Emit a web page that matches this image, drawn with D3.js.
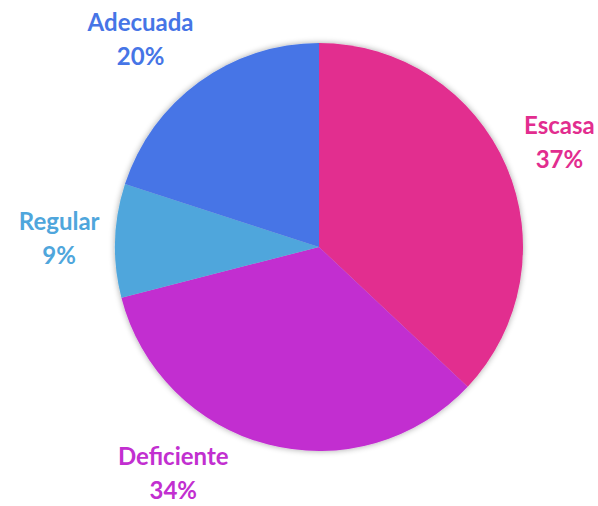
<!DOCTYPE html>
<html>
<head>
<meta charset="utf-8">
<script src="https://cdn.jsdelivr.net/npm/d3@7"></script>
<style>
  body { margin: 0; background: #fff; }
  svg text { font-family: Lato, "Open Sans", sans-serif; font-weight: 700; }
</style>
</head>
<body>
<div id="chart"></div>
<script>
// data
var categories = ['Escasa', 'Deficiente', 'Regular', 'Adecuada'];
var values = [37, 34, 9, 20];
var colors = ['#e22d8f', '#c22fd0', '#4fa6dc', '#4675e6'];

// layout
var width = 598,
    height = 506;
var cx = 319, cy = 247, radius = 204;
var fontSize = 24, lineH = 34, capH = 18, gap = 15;

var data = categories.map(function(c, i){
    return {name: c, value: values[i], color: colors[i]};
});

var svg = d3.select('#chart').append('svg')
    .attr('width', width)
    .attr('height', height);

// soft shadow round the pie
var defs = svg.append('defs');
var f = defs.append('filter').attr('id', 'shadow')
    .attr('x', '-10%').attr('y', '-10%').attr('width', '120%').attr('height', '120%');
f.append('feGaussianBlur').attr('in', 'SourceAlpha').attr('stdDeviation', 3).attr('result', 'b');
f.append('feComponentTransfer').attr('in', 'b').attr('result', 's')
  .append('feFuncA').attr('type', 'linear').attr('slope', 0.35);
var m = f.append('feMerge');
m.append('feMergeNode').attr('in', 's');
m.append('feMergeNode').attr('in', 'SourceGraphic');

var g = svg.append('g')
    .attr('transform', 'translate(' + cx + ',' + cy + ')');

var pie = d3.pie()
    .sort(null)
    .value(function(d){ return d.value; });

var arc = d3.arc()
    .innerRadius(0)
    .outerRadius(radius);

var arcs = pie(data);

g.append('g').attr('filter', 'url(#shadow)')
  .selectAll('path')
    .data(arcs)
  .enter().append('path')
    .attr('d', arc)
    .style('fill', function(d){ return d.data.color; });

// distance from pie centre to the nearest point of a label box
function nearest(x, y, w, h){
    var nx = Math.max(x - w/2, Math.min(0, x + w/2));
    var ny = Math.max(y - h/2, Math.min(0, y + h/2));
    return Math.sqrt(nx*nx + ny*ny);
}

// push a box out along angle a until it clears the pie
function placeAt(a, w, h){
    var dx = Math.sin(a), dy = -Math.cos(a), t = 0;
    while (nearest(t*dx, t*dy, w, h) < radius + gap) t += 0.5;
    return [t*dx, t*dy];
}

function fits(p, w, h){
    return p[0] - w/2 + cx >= 0 && p[0] + w/2 + cx <= width &&
           p[1] - h/2 + cy >= 13 && p[1] + h/2 + cy <= height - 5;
}

var labels = g.selectAll('.lbl')
    .data(arcs)
  .enter().append('text')
    .attr('class', 'lbl')
    .attr('text-anchor', 'middle')
    .style('font-size', fontSize + 'px')
    .style('fill', function(d){ return d.data.color; });

labels.append('tspan').text(function(d){ return d.data.name; });
labels.append('tspan').text(function(d){ return d3.format('.0f')(d.data.value) + '%'; });

labels.each(function(d){
    var t = d3.select(this);
    var w = 0;
    t.selectAll('tspan').each(function(){ w = Math.max(w, this.getComputedTextLength()); });
    var h = capH + lineH + 2;
    var a0 = (d.startAngle + d.endAngle) / 2, a = a0;
    // slide round the pie toward the side if the label would leave the picture
    var target = a < Math.PI ? Math.PI / 2 : 3 * Math.PI / 2;
    var step = target > a ? 0.004 : -0.004;
    var p = placeAt(a, w, h);
    while (!fits(p, w, h) && Math.abs(target - a) > 0.004) {
        a += step;
        p = placeAt(a, w, h);
    }
    if (!fits(p, w, h)) {
        p = placeAt(a0, w, h);
        p[0] = Math.max(-cx + w/2, Math.min(width - cx - w/2, p[0]));
    }
    var b1 = p[1] - h/2 + capH;
    t.selectAll('tspan')
        .attr('x', p[0])
        .attr('y', function(_, i){ return b1 + lineH * i; });
});
</script>
</body>
</html>
